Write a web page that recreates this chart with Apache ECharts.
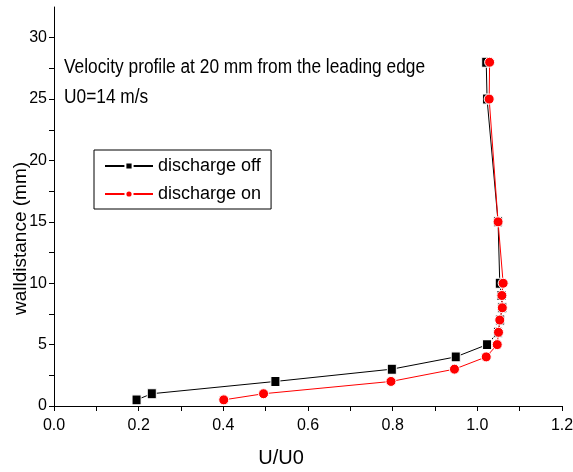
<!DOCTYPE html>
<html>
<head>
<meta charset="utf-8">
<script src="https://cdn.jsdelivr.net/npm/echarts@6/dist/echarts.min.js"></script>
<style>html,body{margin:0;padding:0;background:#fff}#c{width:573px;height:472px}</style>
</head>
<body>
<div id="c"></div>
<script>
var FONT = '"Liberation Sans",Arial,sans-serif';
var seriesNames = ['discharge off', 'discharge on'];
var offX = [0.195, 0.231, 0.523, 0.798, 0.949, 1.023, 1.049, 1.054, 1.059, 1.057, 1.053, 1.049, 1.023, 1.021];
var offY = [0.5, 1, 2, 3, 4, 5, 6, 7, 8, 9, 10, 15, 25, 28];
var onX = [0.401, 0.495, 0.796, 0.946, 1.021, 1.047, 1.050, 1.053, 1.059, 1.058, 1.061, 1.049, 1.028, 1.029];
var onY = [0.5, 1, 2, 3, 4, 5, 6, 7, 8, 9, 10, 15, 25, 28];
var yTicks = [0, 2.5, 5, 7.5, 10, 12.5, 15, 17.5, 20, 22.5, 25, 27.5, 30];
var yLabels = [0, 5, 10, 15, 20, 25, 30];
var title1 = 'Velocity profile at 20 mm from the leading edge';
var title2 = 'U0=14 m/s';

function pairs(xs, ys) { return xs.map(function (x, i) { return [x, ys[i]]; }); }

var chart = echarts.init(document.getElementById('c'));
chart.setOption({
  animation: false,
  backgroundColor: '#fff',
  grid: { left: 54, right: 11, top: 7, bottom: 66, containLabel: false, outerBoundsMode: 'none' },
  graphic: [
    { type: 'text', left: 64, top: 57, scaleX: 0.866,
      style: { text: title1, font: '20px ' + FONT, fill: '#000' } },
    { type: 'text', left: 64, top: 87, scaleX: 0.866,
      style: { text: title2, font: '20px ' + FONT, fill: '#000' } }
  ],
  legend: {
    orient: 'vertical', left: 94, top: 150,
    padding: [7, 10, 6, 10], itemGap: 10,
    itemWidth: 48, itemHeight: 9,
    borderColor: '#000', borderWidth: 1,
    textStyle: { fontFamily: FONT, fontSize: 18, color: '#000' },
    data: seriesNames
  },
  xAxis: {
    type: 'value', min: 0, max: 1.2, interval: 0.2,
    name: 'U/U0', nameLocation: 'middle', nameGap: 42, nameMoveOverlap: false,
    nameTextStyle: { fontFamily: FONT, fontSize: 20, color: '#000', padding: [0, 54, 0, 0] },
    axisLine: { show: true, onZero: false, lineStyle: { color: '#000', width: 1 } },
    axisTick: { show: true, inside: false, length: 5, lineStyle: { color: '#000' } },
    minorTick: { show: true, splitNumber: 2, length: 5, lineStyle: { color: '#000' } },
    axisLabel: { fontFamily: FONT, fontSize: 16, color: '#000', margin: 12,
      formatter: function (v) { return v.toFixed(1); } },
    splitLine: { show: false }
  },
  yAxis: {
    type: 'value', min: 0, max: 32.5, interval: 5,
    name: 'walldistance (mm)', nameLocation: 'middle', nameGap: 24, nameMoveOverlap: false,
    nameTextStyle: { fontFamily: FONT, fontSize: 19, color: '#000', padding: [0, 64, 0, 0] },
    axisLine: { show: true, onZero: false, lineStyle: { color: '#000', width: 1 } },
    axisTick: { show: true, inside: false, length: 5, lineStyle: { color: '#000' }, customValues: yTicks },
    axisLabel: { fontFamily: FONT, fontSize: 16, color: '#000', margin: 7, customValues: yLabels },
    splitLine: { show: false }
  },
  series: [
    {
      name: seriesNames[0], type: 'line', data: pairs(offX, offY),
      symbol: 'rect', symbolSize: [9, 10], showAllSymbol: true,
      itemStyle: { color: '#000', borderColor: '#fff', borderWidth: 1 },
      lineStyle: { color: '#000', width: 1 }, z: 2
    },
    {
      name: seriesNames[1], type: 'line', data: pairs(onX, onY),
      symbol: 'circle', symbolSize: 10, showAllSymbol: true,
      itemStyle: { color: '#ff0000', borderColor: '#fff', borderWidth: 1 },
      lineStyle: { color: '#ff0000', width: 1 }, z: 3
    }
  ]
});
</script>
</body>
</html>
